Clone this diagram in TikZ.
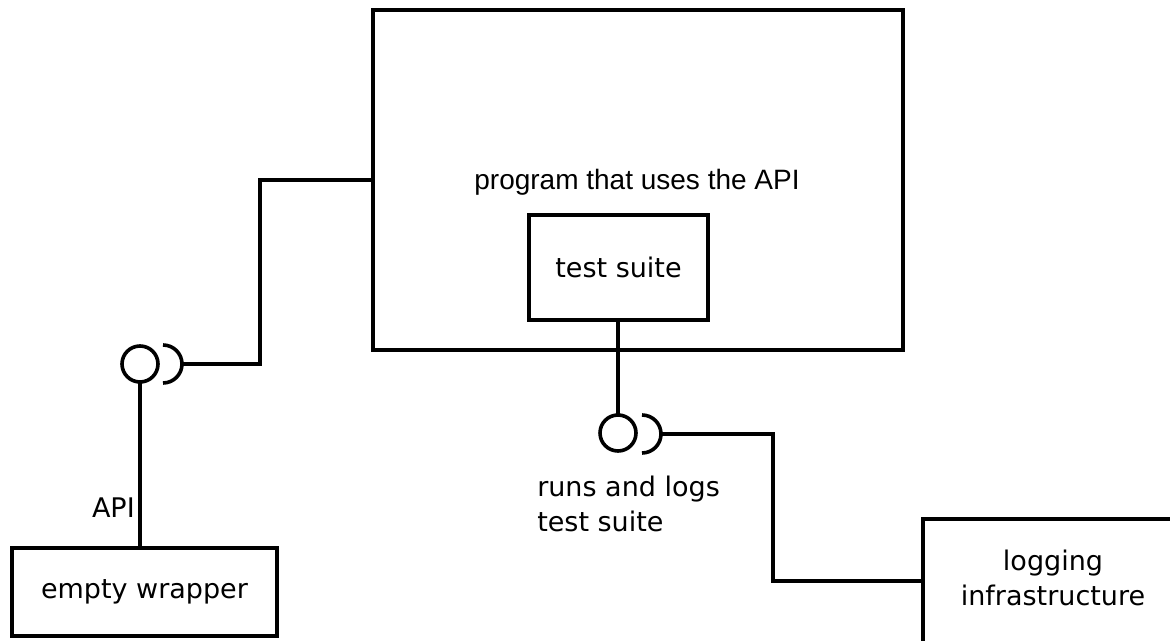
\documentclass[tikz,border=0pt]{standalone}
\usepackage{fontspec}
\setmainfont{DejaVu Sans}
\newfontfamily\arialf{Liberation Sans}
\begin{document}
\begin{tikzpicture}[x=0.75pt,y=0.75pt,
  line/.style={line width=2.7pt, draw=black},
  box/.style={line, rectangle, inner sep=0pt, outer sep=0pt},
  ball/.style={line, circle, minimum size=27pt, inner sep=0pt, outer sep=0pt},
  txt/.style={font=\fontsize{20.25}{26.25}\selectfont, inner sep=0pt, text=black},
  ptxt/.style={font=\arialf\fontsize{21}{26}\selectfont, inner sep=0pt, text=black}]
\useasboundingbox (0,0) rectangle (1170,-641);

% boxes
\node[box, minimum width=397.5pt, minimum height=255pt] (main) at (638,-180) {};
\node[ptxt, anchor=base] (maintxt) at (637,-190) {program that uses the API};
\node[box, minimum width=134.25pt, minimum height=78.75pt, txt] (test) at (618.5,-267.5) {test suite};
\node[box, minimum width=198.75pt, minimum height=66pt, txt] (wrapper) at (144.5,-592) {empty wrapper};
\node[box, minimum width=210pt, minimum height=120pt, anchor=north west] (log) at (923,-519) {};
\node[txt, align=center] (logtxt) at (1053,-577.5) {logging\\infrastructure};

% balls and sockets
\node[ball] (ballA) at (140,-364) {};
\coordinate (sockA) at (182,-364);
\draw[line] ([shift={(-19,19)}]sockA) arc[start angle=90, end angle=-90, radius=14.25pt];
\node[ball] (ballB) at (618,-433) {};
\coordinate (sockB) at (661,-434);
\draw[line] ([shift={(-19,19)}]sockB) arc[start angle=90, end angle=-90, radius=14.25pt];

% labels
\node[txt, anchor=east] (apilbl) at (135,-508) {API};
\node[txt, anchor=west, align=left] (runslbl) at (537,-504) {runs and logs\\test suite};

% connectors
\coordinate (bendA) at (260,-180);
\draw[line] (sockA) -| (bendA) -- (main.west);
\draw[line] (ballA.south) -- (ballA.south |- wrapper.north);
\draw[line] (test.south -| ballB.north) -- (ballB.north);
\coordinate (bendB) at (773,-581);
\draw[line] (sockB) -| (bendB) -- (bendB -| log.west);
\end{tikzpicture}
\end{document}
